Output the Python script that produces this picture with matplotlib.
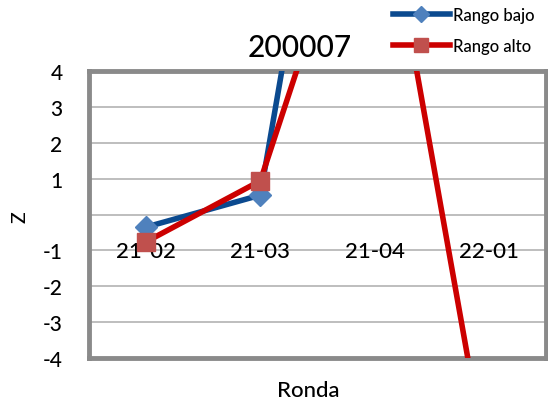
import matplotlib
matplotlib.use('Agg')
from matplotlib import pyplot as plt
import numpy as np

rondas = ['21-02', '21-03', '21-04', '22-01']
rango_bajo = [-0.35, 0.54, 19.0, 14.0]
rango_alto = [-0.76, 0.94, 10.6, -7.3]
y_ticks = [-4, -3, -2, -1, 0, 1, 2, 3, 4]
y_labels = ['-4', '-3', '-2', '-1', '', '1', '2', '3', '4']

plt.rcParams['font.family'] = ['Lato', 'DejaVu Sans']
plt.rcParams['font.weight'] = 'medium'

W, H = 548, 402
fig = plt.figure(figsize=(W / 100, H / 100), dpi=100)
ax = fig.add_axes([89 / W, 1 - 359 / H, (546 - 89) / W, (359 - 72) / H])

x = np.arange(len(rondas))
ax.plot(x, rango_bajo, color='#0b4a8f', lw=4, marker='D', ms=11,
        mfc='#4f81bd', mec='#4f81bd', label='Rango bajo', zorder=3)
ax.plot(x, rango_alto, color='#cc0000', lw=4, marker='s', ms=13,
        mfc='#c0504d', mec='#c0504d', label='Rango alto', zorder=4)

ax.set_xlim(-0.5, len(rondas) - 0.5)
ax.set_ylim(-4, 4)
ax.set_yticks(y_ticks)
ax.set_yticklabels(y_labels, fontsize=15)
ax.tick_params(axis='y', length=0, pad=19)
ax.set_xticks([])
ax.grid(axis='y', color='#b3b3b3', lw=1.2)
ax.set_axisbelow(True)
for s in ax.spines.values():
    s.set_color('#8a8a8a')
    s.set_linewidth(3.5)

# category labels sit under the zero line, like Excel
for i, r in enumerate(rondas):
    ax.annotate(r, xy=(i, 0), xytext=(0, -43), textcoords='offset pixels',
                ha='center', va='baseline', fontsize=16, annotation_clip=False)

fig.text(300 / W, 1 - 56.7 / H, '200007', ha='center', va='baseline', fontsize=21.5)
fig.text(308 / W, 1 - 396.7 / H, 'Ronda', ha='center', va='baseline', fontsize=16)
fig.text(20 / W, 1 - 217 / H, 'Z', ha='center', va='center', rotation=90, fontsize=14)

ax.legend(loc='upper left', bbox_to_anchor=(393 / W, 1 - 8 / H),
          bbox_transform=fig.transFigure, frameon=False, fontsize=12,
          handlelength=3.4, handletextpad=0.2, labelspacing=0.9,
          borderpad=0, borderaxespad=0, numpoints=1, markerscale=0.75)

plt.savefig('out.png', dpi=100)
